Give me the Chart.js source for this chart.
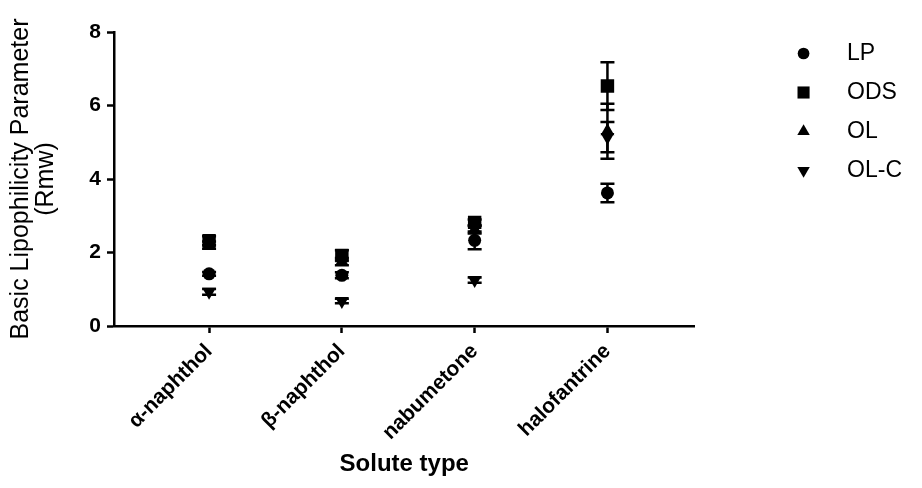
<!DOCTYPE html>
<html>
<head>
<meta charset="utf-8">
<script src="https://cdn.jsdelivr.net/npm/chart.js@4/dist/chart.umd.min.js"></script>
<style>
  html, body { margin: 0; padding: 0; background: #fff; }
  #wrap { width: 922px; height: 488px; }
</style>
</head>
<body>
<div id="wrap"><canvas id="c" width="922" height="488"></canvas></div>
<script>
// ---- data ----
const categories = ['α-naphthol', 'β-naphthol', 'nabumetone', 'halofantrine'];
const seriesNames = ['LP', 'ODS', 'OL', 'OL-C'];
const lpValues   = [1.42, 1.38, 2.33, 3.62];
const lpErrors   = [0.05, 0.08, 0.24, 0.25];
const odsValues  = [2.32, 1.92, 2.82, 6.53];
const odsErrors  = [0.12, 0.14, 0.08, 0.65];
const olValues   = [2.20, 1.75, 2.62, 5.30];
const olErrors   = [0.10, 0.10, 0.10, 0.75];
const olcValues  = [0.93, 0.68, 1.25, 5.14];
const olcErrors  = [0.08, 0.06, 0.07, 0.41];
const yTickValues = [0, 2, 4, 6, 8];

const FONT = '"Liberation Sans", Arial, Helvetica, sans-serif';

function pts(vals) { return vals.map((v, i) => ({ x: i + 1, y: v })); }

const styles = [
  { pointStyle: 'circle',   radius: 6.5, rotation: 0 },
  { pointStyle: 'rect',     radius: 9.5, rotation: 0 },
  { pointStyle: 'triangle', radius: 8,   rotation: 0 },
  { pointStyle: 'triangle', radius: 8,   rotation: 180 }
];
const allValues = [lpValues, odsValues, olValues, olcValues];
const allErrors = [lpErrors, odsErrors, olErrors, olcErrors];

const datasets = seriesNames.map((name, k) => ({
  label: name,
  data: pts(allValues[k]),
  errors: allErrors[k],
  showLine: false,
  backgroundColor: '#000',
  borderColor: '#000',
  borderWidth: 0,
  pointStyle: styles[k].pointStyle,
  pointRadius: styles[k].radius,
  pointHoverRadius: styles[k].radius,
  rotation: styles[k].rotation
}));

const errorBarPlugin = {
  id: 'errorBars',
  beforeDatasetsDraw(chart) {
    const ctx = chart.ctx, xs = chart.scales.x, ys = chart.scales.y;
    ctx.save();
    ctx.strokeStyle = '#000';
    ctx.lineWidth = 2.5;
    chart.data.datasets.forEach(ds => {
      ds.data.forEach((p, j) => {
        const e = ds.errors[j];
        const x = xs.getPixelForValue(p.x);
        const yTop = ys.getPixelForValue(p.y + e);
        const yBot = ys.getPixelForValue(p.y - e);
        const half = 7;
        ctx.beginPath();
        ctx.moveTo(x, yTop); ctx.lineTo(x, yBot);
        ctx.moveTo(x - half, yTop); ctx.lineTo(x + half, yTop);
        ctx.moveTo(x - half, yBot); ctx.lineTo(x + half, yBot);
        ctx.stroke();
      });
    });
    ctx.restore();
  }
};

const legendMarkerPlugin = {
  id: 'legendMarkers',
  afterDraw(chart) {
    const lg = chart.legend;
    if (!lg || !lg.legendHitBoxes) return;
    const ctx = chart.ctx;
    ctx.save();
    lg.legendHitBoxes.forEach((hb, i) => {
      const ds = chart.data.datasets[i];
      const cx = hb.left + 8;
      const cy = hb.top + hb.height / 2;
      ctx.fillStyle = '#000';
      ctx.strokeStyle = '#000';
      Chart.helpers.drawPoint(ctx, {
        pointStyle: ds.pointStyle,
        radius: ds.pointRadius * 0.9,
        rotation: ds.rotation,
        borderWidth: 0
      }, cx, cy);
    });
    ctx.restore();
  }
};

new Chart(document.getElementById('c'), {
  type: 'scatter',
  data: { datasets },
  plugins: [errorBarPlugin, legendMarkerPlugin],
  options: {
    responsive: false,
    animation: false,
    events: [],
    layout: { padding: { top: 32, right: 10, bottom: 0, left: 0 } },
    plugins: {
      tooltip: { enabled: false },
      legend: {
        position: 'right',
        align: 'start',
        labels: {
          color: '#000',
          font: { family: FONT, size: 23 },
          boxWidth: 40,
          boxHeight: 35,
          padding: 4,
          generateLabels(chart) {
            return chart.data.datasets.map((ds, i) => ({
              text: ds.label,
              fillStyle: 'rgba(0,0,0,0)',
              strokeStyle: 'rgba(0,0,0,0)',
              lineWidth: 0,
              fontColor: '#000',
              datasetIndex: i,
              hidden: false
            }));
          }
        }
      }
    },
    scales: {
      x: {
        type: 'linear',
        min: 0.284,
        max: 4.656,
        afterBuildTicks(scale) { scale.ticks = categories.map((c, i) => ({ value: i + 1 })); },
        afterFit(scale) { scale.height = 162; },
        ticks: {
          color: '#000',
          font: { family: FONT, size: 21, weight: 'bold' },
          minRotation: 45,
          maxRotation: 45,
          autoSkip: false,
          padding: 6,
          callback(v) { return categories[Math.round(v) - 1]; }
        },
        grid: { drawOnChartArea: false, drawTicks: true, tickLength: 7, tickWidth: 2.5, tickColor: '#000' },
        border: { display: true, color: '#000', width: 2.5 },
        title: {
          display: true,
          text: 'Solute type',
          color: '#000',
          font: { family: FONT, size: 24, weight: 'bold' },
          padding: { top: 4, bottom: 9 }
        }
      },
      y: {
        type: 'linear',
        min: 0,
        max: 8,
        afterBuildTicks(scale) { scale.ticks = yTickValues.map(v => ({ value: v })); },
        afterFit(scale) { scale.width = 114; },
        ticks: {
          color: '#000',
          font: { family: FONT, size: 21, weight: 'bold' },
          padding: 6
        },
        grid: { drawOnChartArea: false, drawTicks: true, tickLength: 7, tickWidth: 2.5, tickColor: '#000' },
        border: { display: true, color: '#000', width: 2.5 },
        title: {
          display: true,
          text: ['Basic Lipophilicity Parameter', '(Rmw)'],
          color: '#000',
          font: { family: FONT, size: 25, lineHeight: 1.02 },
          padding: { top: 8, bottom: 0 }
        }
      },
      gap: {
        type: 'linear',
        position: 'right',
        display: true,
        afterFit(scale) { scale.width = 97; },
        ticks: { display: false },
        grid: { display: false },
        border: { display: false }
      }
    }
  }
});
</script>
</body>
</html>
